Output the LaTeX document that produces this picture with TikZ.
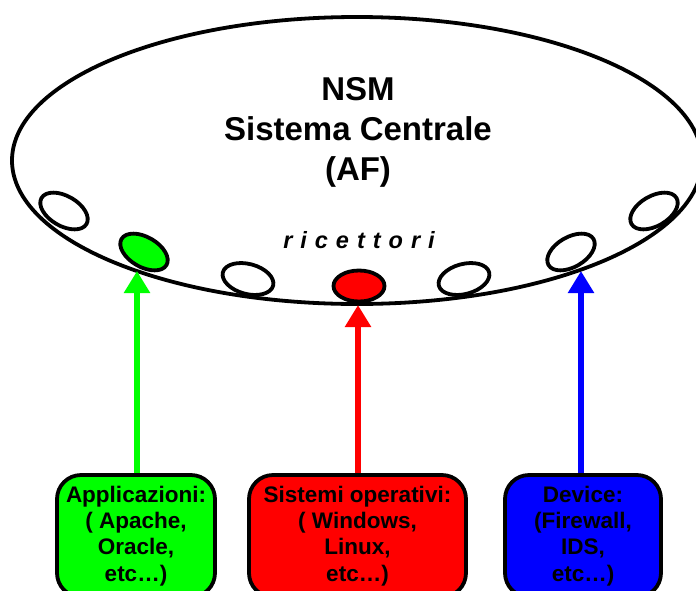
\documentclass[tikz,border=0pt]{standalone}
\usepackage{fontspec}
\setmainfont{Liberation Sans}
\usetikzlibrary{shapes.geometric,arrows.meta}

\definecolor{pgreen}{RGB}{0,255,0}
\definecolor{pred}{RGB}{255,0,0}
\definecolor{pblue}{RGB}{0,0,255}

\begin{document}
\begin{tikzpicture}[x=1pt,y=-1pt,
  recettore/.style={draw=black, line width=3.8pt, ellipse, inner sep=0pt,
    minimum width=52pt, minimum height=30pt, fill=white},
  srcbox/.style={draw=black, line width=3.8pt, rounded corners=24pt,
    minimum height=122pt, inner sep=0pt, align=center,
    font=\fontsize{22.5}{26.3}\selectfont\bfseries},
  feed/.style={line width=5.5pt, -{Triangle[width=25pt,length=22pt]}}
]
\useasboundingbox (0,0) rectangle (696,590);

% central system
\node[draw=black, line width=3.8pt, ellipse, inner sep=0pt,
      minimum width=690pt, minimum height=287pt] (nsm) at (357,160.5) {};
\node[font=\fontsize{33}{40}\selectfont\bfseries, align=center] (title)
      at (358,132) {NSM\\Sistema Centrale\\(AF)};
\node[font=\fontsize{23.5}{26}\selectfont\bfseries\itshape, anchor=base] (ric)
      at (359,248) {r\kern8pt i\kern8pt c\kern8pt e\kern8pt t\kern8pt t\kern8pt o\kern8pt r\kern8pt i};

% source boxes
\node[srcbox, fill=pgreen, minimum width=158pt] (app) at (136,536)
      {Applicazioni:\\( Apache,\\Oracle,\\etc…)};
\node[srcbox, fill=pred, minimum width=217pt] (os) at (357.5,536)
      {Sistemi operativi:\\( Windows,\\Linux,\\etc…)};
\node[srcbox, fill=pblue, minimum width=156pt] (dev) at (583,536)
      {Device:\\(Firewall,\\IDS,\\etc…)};

% arrow tips under the receptors
\coordinate (tipA) at (137,271);
\coordinate (tipO) at (358,305);
\coordinate (tipD) at (581,271);
\draw[feed, pgreen] (tipA |- app.north) -- (tipA);
\draw[feed, pred]   (tipO |- os.north)  -- (tipO);
\draw[feed, pblue]  (tipD |- dev.north) -- (tipD);

% receptors
\node[recettore, rotate=-30] (r1) at (64,211) {};
\node[recettore, rotate=-30, fill=pgreen] (r2) at (144,252) {};
\node[recettore, rotate=-15] (r3) at (248,279) {};
\node[recettore, fill=pred, minimum width=51pt, minimum height=31pt] (r4) at (359,286) {};
\node[recettore, rotate=15] (r5) at (464,279) {};
\node[recettore, rotate=30] (r6) at (571,252) {};
\node[recettore, rotate=30] (r7) at (654,211) {};
\end{tikzpicture}
\end{document}
